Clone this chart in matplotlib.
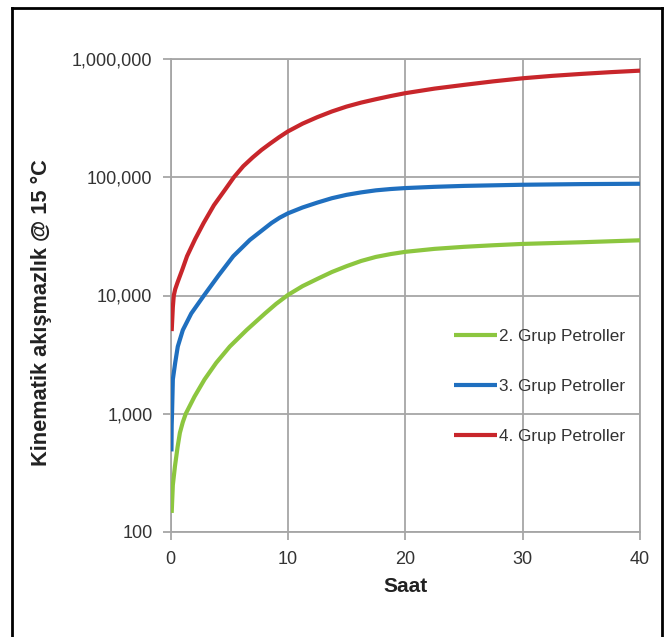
import matplotlib
matplotlib.use("Agg")
import matplotlib.pyplot as plt
from matplotlib.lines import Line2D

plt.rcParams['font.family'] = ['Liberation Sans', 'DejaVu Sans']

# ---- data ----
x_grp2 = [0.1, 0.2, 0.38, 0.6, 0.8, 1.05, 1.3, 2.05, 2.9, 3.9, 5.05, 6.48, 8.05, 9.0,
          10, 11.25, 12.5, 13.75, 15, 16.25, 17.5, 18.75, 20, 22.5, 25, 27.5, 30, 35, 40]
y_grp2 = [145, 250, 360, 520, 690, 850, 1000, 1400, 1950, 2700, 3700, 5100, 7050, 8500,
          10100, 12000, 13800, 15800, 17700, 19600, 21200, 22400, 23400, 24800, 25800,
          26600, 27300, 28200, 29300]

x_grp3 = [0.08, 0.1, 0.13, 0.2, 0.4, 0.62, 1.05, 1.77, 2.85, 4.1, 5.35, 6.76, 8.6, 9.3,
          10, 11.25, 12.5, 13.75, 15, 16.25, 17.5, 18.75, 20, 22.5, 25, 30, 35, 40]
y_grp3 = [480, 800, 1000, 1950, 2700, 3700, 5100, 7050, 10000, 14800, 21500, 29500, 41000,
          45500, 49500, 55500, 61000, 66500, 71000, 74500, 77500, 79500, 81000, 83000,
          84500, 86400, 87500, 88100]

x_grp4 = [0.1, 0.15, 0.2, 0.28, 0.4, 0.6, 0.8, 1.0, 1.41, 2.1, 2.82, 3.7, 4.65, 5.4, 6.2,
          7.0, 7.75, 8.5, 9.25, 10, 11.25, 12.5, 13.75, 15, 16.25, 17.5, 18.75, 20, 22.5,
          25, 27.5, 30, 32.5, 35, 37.5, 40]
y_grp4 = [5000, 6300, 8000, 10000, 11300, 12900, 14600, 16500, 21500, 30000, 41000, 58000,
          78500, 100000, 124000, 147000, 170000, 193000, 218000, 244000, 284000, 322000,
          360000, 396000, 428000, 457000, 486000, 514000, 562000, 604000, 647000, 687000,
          720000, 748000, 774000, 797000]

series_labels = ['2. Grup Petroller', '3. Grup Petroller', '4. Grup Petroller']
series_colors = ['#8cc63f', '#1f6fbf', '#c8262b']

x_ticks = [0, 10, 20, 30, 40]
y_ticks = [100, 1000, 10000, 100000, 1000000]
y_tick_labels = ['100', '1,000', '10,000', '100,000', '1,000,000']
x_label = 'Saat'
y_label = 'Kinematik akışmazlık @ 15 °C'

# ---- figure ----
W, H = 668, 637
fig = plt.figure(figsize=(W / 100, H / 100), dpi=100)
ax = fig.add_axes([170.5 / W, 1 - 532 / H, (640 - 170.5) / W, (532 - 59) / H])

grid_c = '#a6a6a6'
for xs, ys, lab, c in zip([x_grp2, x_grp3, x_grp4], [y_grp2, y_grp3, y_grp4],
                          series_labels, series_colors):
    ax.plot(xs, ys, color=c, lw=3.0, label=lab, solid_capstyle='butt',
            solid_joinstyle='round', zorder=3)

ax.set_yscale('log')
ax.set_xlim(0, 40)
ax.set_ylim(100, 1000000)
ax.set_xticks(x_ticks)
ax.set_xticklabels([str(t) for t in x_ticks])
ax.set_yticks(y_ticks)
ax.set_yticklabels(y_tick_labels)
ax.yaxis.set_minor_locator(matplotlib.ticker.NullLocator())

ax.grid(True, color=grid_c, lw=1.3)
for s in ax.spines.values():
    s.set_color(grid_c)
    s.set_linewidth(1.3)
ax.tick_params(axis='both', which='major', color=grid_c, width=1.3, length=6,
               labelsize=13, labelcolor='#333333')
ax.tick_params(axis='y', pad=7)
ax.tick_params(axis='x', pad=8)

ax.set_xlabel(x_label, fontsize=15, fontweight='bold', color='#222222', labelpad=6)
ax.set_ylabel(y_label, fontsize=15.7, fontweight='bold', color='#222222')
ax.yaxis.set_label_coords(-0.252, 0.463)

leg = ax.legend(loc='upper left', bbox_to_anchor=(0.604, 0.4295), frameon=False,
                borderpad=0, borderaxespad=0, handlelength=2.5, handletextpad=0.15,
                labelspacing=2.05, fontsize=12.3)
for t in leg.get_texts():
    t.set_color('#333333')
for h in leg.legend_handles:
    h.set_linewidth(3.0)

# figure frame (left, top, right)
bx0, bx1, by1 = 12 / W, 662 / W, 1 - 8 / H
for xs, ys in [([bx0, bx0], [0, by1]), ([bx0, bx1], [by1, by1]), ([bx1, bx1], [by1, 0])]:
    fig.add_artist(Line2D(xs, ys, transform=fig.transFigure, color='black', lw=2.0))

fig.savefig('out.png', dpi=100)
